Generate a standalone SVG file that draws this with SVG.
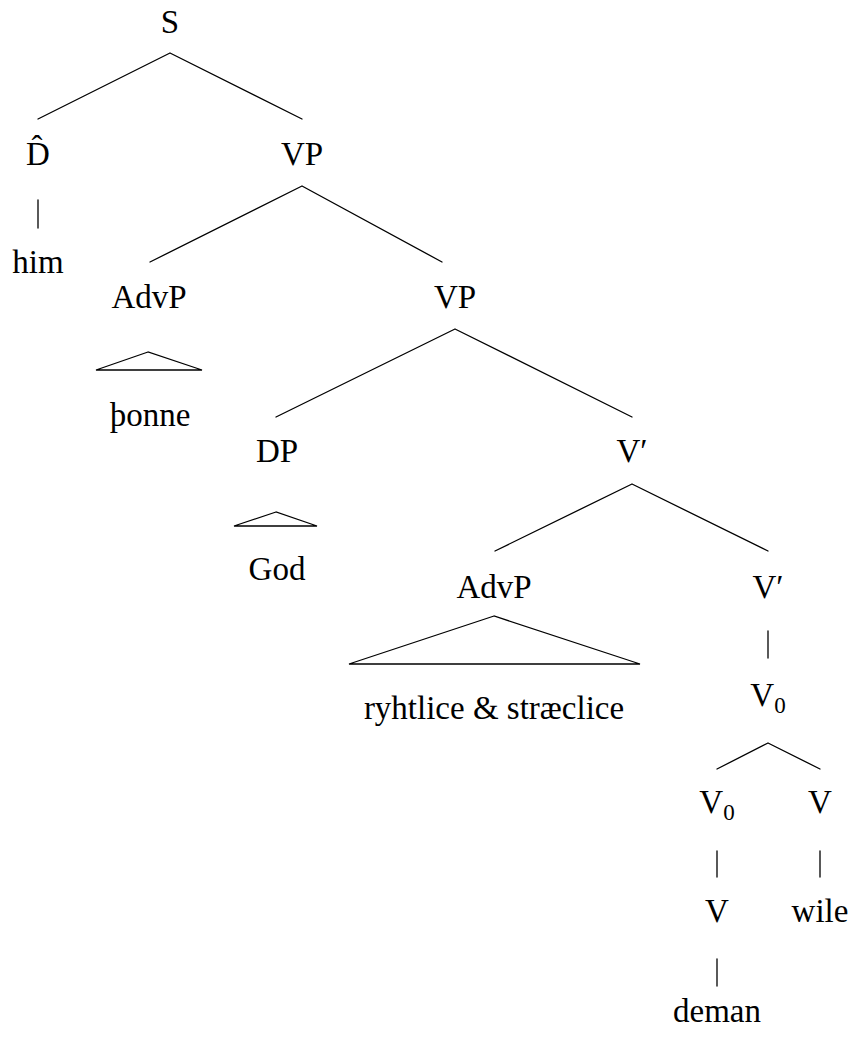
<svg xmlns="http://www.w3.org/2000/svg" width="850" height="1037" viewBox="0 0 850 1037">
<style>
text{font-family:"Liberation Serif","DejaVu Serif",serif;font-size:33px;fill:#000;text-anchor:middle}
.sub{font-size:23px}
.e{stroke:#000;stroke-width:1.3;fill:none;stroke-linecap:round}
</style>
<rect width="850" height="1037" fill="#fff"/>
<g id="connectors">
<path class="e" d="M170 53L38 119M170 53L302 119"/>
<path class="e" d="M38 200V228"/>
<path class="e" d="M302 186L150 262M302 186L442 262"/>
<path class="e" d="M148 352L96 370H202Z"/>
<path class="e" d="M455 329L276 417M455 329L632 417"/>
<path class="e" d="M276 512L234 526H317Z"/>
<path class="e" d="M632 484L495 551M632 484L768 551"/>
<path class="e" d="M494 616L349 664H640Z"/>
<path class="e" d="M768 631V658"/>
<path class="e" d="M768 743L717 769M768 743L820 769"/>
<path class="e" d="M717 851V877M820 851V877"/>
<path class="e" d="M717 959V986"/>
</g>
<g id="n-S"><text x="170" y="33">S</text></g>
<g id="n-Dhat"><text x="38" y="165">D̂</text></g>
<g id="n-him"><text x="38" y="273">him</text></g>
<g id="n-VP1"><text x="302" y="165">VP</text></g>
<g id="n-AdvP1"><text x="149" y="308">AdvP</text></g>
<g id="n-thonne"><text x="150" y="426">þonne</text></g>
<g id="n-VP2"><text x="455" y="308">VP</text></g>
<g id="n-DP"><text x="277" y="462">DP</text></g>
<g id="n-God"><text x="277" y="580">God</text></g>
<g id="n-Vbar1"><text x="632" y="462">V′</text></g>
<g id="n-AdvP2"><text x="494" y="598">AdvP</text></g>
<g id="n-ryht"><text x="494" y="719">ryhtlice &amp; stræclice</text></g>
<g id="n-Vbar2"><text x="768" y="598">V′</text></g>
<g id="n-V0top"><text x="768" y="706">V<tspan class="sub" dy="7">0</tspan></text></g>
<g id="n-V0left"><text x="717" y="813">V<tspan class="sub" dy="7">0</tspan></text></g>
<g id="n-Vright"><text x="820" y="813">V</text></g>
<g id="n-V"><text x="717" y="922">V</text></g>
<g id="n-wile"><text x="820" y="922">wile</text></g>
<g id="n-deman"><text x="717" y="1022">deman</text></g>
</svg>
